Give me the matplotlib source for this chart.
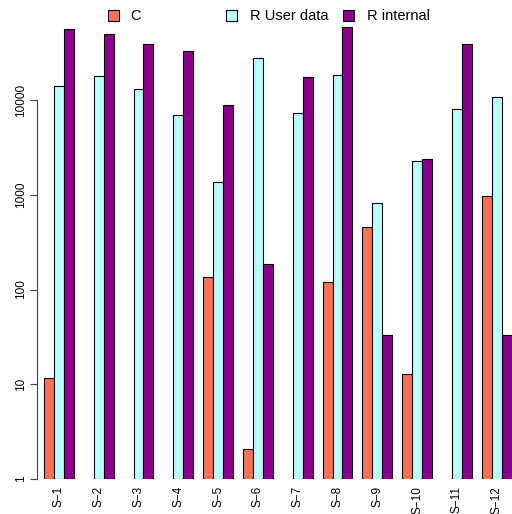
import numpy as np
import matplotlib.pyplot as plt
from matplotlib.patches import Rectangle

plt.rcParams['font.family'] = ['Liberation Sans', 'DejaVu Sans']

samples = ["S\u22121", "S\u22122", "S\u22123", "S\u22124", "S\u22125", "S\u22126",
           "S\u22127", "S\u22128", "S\u22129", "S\u221210", "S\u221211", "S\u221212"]
series = ["C", "R User data", "R internal"]
colors = ["#FF7256", "#BBFFFF", "#8B008B"]

# 0 means no timing recorded (not drawn on the log axis)
c_times = [11.6, 0, 0, 0, 134, 2.06, 0, 121, 453, 12.7, 0, 970]
r_user = [14060, 18060, 12970, 6950, 1353, 27700, 7340, 18360, 813, 2254, 8040, 10670]
r_internal = [55700, 49700, 38700, 32900, 8850, 184.5, 17380, 58500, 32.9, 2367, 38700, 32.9]

W, H = 512, 514
fig = plt.figure(figsize=(W / 100, H / 100), dpi=100)
left, right, bottom, top = 37, 512, 479, 20
ax = fig.add_axes([left / W, (H - bottom) / H, (right - left) / W, (bottom - top) / H])

# barplot layout: bars of width 1, one empty slot between groups
n = len(samples)
starts = 1 + 4 * np.arange(n)
for k, vals in enumerate([c_times, r_user, r_internal]):
    vals = np.array(vals, dtype=float)
    keep = vals > 0
    # bars rise from 1 (the log baseline) up to the value
    ax.bar(starts[keep] + k, vals[keep] - 1, width=1, bottom=1, align='edge',
           color=colors[k], edgecolor='black', linewidth=0.8)

ax.set_yscale('log')
ax.set_xlim(0.3, 48.04)
ax.set_ylim(1, 10 ** ((bottom - top) / 94.75))

for s in ['top', 'right', 'bottom']:
    ax.spines[s].set_visible(False)
ax.spines['left'].set_bounds(1, 10000)
ax.spines['left'].set_color('#444444')
ax.spines['left'].set_linewidth(0.8)

yt = [1, 10, 100, 1000, 10000]
ax.set_yticks(yt)
ax.set_yticklabels([str(v) for v in yt], rotation=90, va='center', fontsize=8.5)
ax.yaxis.set_minor_locator(plt.NullLocator())
ax.tick_params(axis='y', length=5, width=0.8, pad=2, color='#444444')

ax.set_xticks(starts + 1.5)
ax.set_xticklabels(samples, rotation=90, fontsize=8.5)
ax.tick_params(axis='x', length=0, pad=5)

# legend across the top
legend_pos = [(108, 130), (226, 250), (343, 367)]
for (bx, tx), name, col in zip(legend_pos, series, colors):
    fig.patches.append(Rectangle((bx / W, (H - 21) / H), 11 / W, 11 / H,
                                 transform=fig.transFigure, facecolor=col,
                                 edgecolor='black', linewidth=0.8))
    fig.text(tx / W, (H - 15.5) / H, name, fontsize=10.5, va='center', ha='left')

fig.savefig('out.png', dpi=100)
